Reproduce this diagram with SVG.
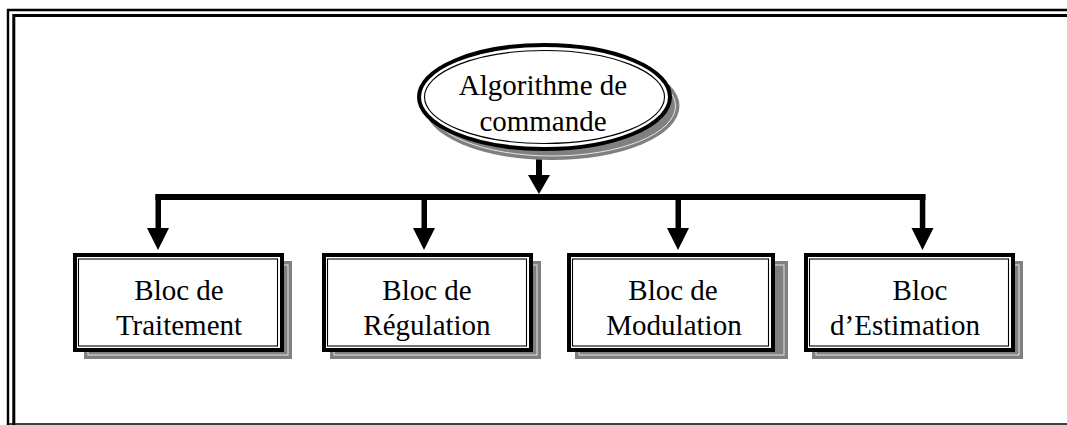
<svg xmlns="http://www.w3.org/2000/svg" width="1067" height="425" viewBox="0 0 1067 425">
<style>
.t{font-family:"Liberation Serif","Times New Roman",serif;font-size:29px;fill:#000;text-anchor:middle}
.thick{fill:#fff;stroke:#000;stroke-width:4}
.thin{fill:none;stroke:#000;stroke-width:1.1}
.sh{fill:#808080;stroke:none}
.shl{fill:none;stroke:#f0f0f0;stroke-width:0.9}
.frame{fill:none;stroke:#000}
.bar{fill:#000}
</style>
<rect width="1067" height="425" fill="#fff"/>
<g id="frame">
<path class="frame" d="M8,425 V10 H1067" stroke-width="2.4"/>
<path class="frame" d="M13.8,425 V15.5 H1067" stroke-width="3"/>
<line class="frame" x1="7" y1="424" x2="1067" y2="424" stroke-width="1.4"/>
</g>
<g id="connectors">
<rect class="bar" x="536" y="158" width="6" height="18"/>
<polygon class="bar" points="528,175 550,175 539,194"/>
<rect class="bar" x="155.5" y="194" width="770" height="6"/>
<rect class="bar" x="155.5" y="194" width="5.5" height="35"/>
<polygon class="bar" points="147,228 169,228 158,250"/>
<rect class="bar" x="421.5" y="194" width="5.5" height="35"/>
<polygon class="bar" points="413,228 435,228 424,250"/>
<rect class="bar" x="675.5" y="194" width="5.5" height="35"/>
<polygon class="bar" points="667,228 689,228 678,250"/>
<rect class="bar" x="919.8" y="194" width="5.5" height="35"/>
<polygon class="bar" points="911.5,228 933.5,228 922.5,250"/>
</g>
<g id="algorithme">
<ellipse class="sh" cx="552" cy="106" rx="127.5" ry="54"/>
<ellipse class="shl" cx="552" cy="106" rx="123.5" ry="50"/>
<ellipse class="thick" cx="544.5" cy="97" rx="125.5" ry="52"/>
<ellipse class="thin" cx="544.5" cy="97" rx="120" ry="46.5"/>
<text class="t" x="543" y="95">Algorithme de</text>
<text class="t" x="543" y="131">commande</text>
</g>
<g id="traitement">
<rect class="sh" x="84" y="261" width="208" height="98"/>
<rect class="shl" x="88" y="265" width="200" height="90"/>
<rect class="thick" x="75" y="255" width="207" height="95"/>
<rect class="thin" x="78.5" y="259" width="199" height="87"/>
<text class="t" x="179" y="300">Bloc de</text>
<text class="t" x="179" y="335">Traitement</text>
</g>
<g id="regulation">
<rect class="sh" x="330" y="261" width="211" height="98"/>
<rect class="shl" x="334" y="265" width="203" height="90"/>
<rect class="thick" x="324" y="255" width="207" height="95"/>
<rect class="thin" x="327.5" y="259" width="199" height="87"/>
<text class="t" x="427" y="300">Bloc de</text>
<text class="t" x="427" y="335">Régulation</text>
</g>
<g id="modulation">
<rect class="sh" x="575" y="261" width="213" height="98"/>
<rect class="shl" x="579" y="265" width="205" height="90"/>
<rect class="thick" x="569" y="255" width="204" height="95"/>
<rect class="thin" x="572.5" y="259" width="196" height="87"/>
<text class="t" x="673" y="300">Bloc de</text>
<text class="t" x="674" y="335">Modulation</text>
</g>
<g id="estimation">
<rect class="sh" x="812" y="261" width="211" height="98"/>
<rect class="shl" x="816" y="265" width="203" height="90"/>
<rect class="thick" x="806" y="255" width="207" height="95"/>
<rect class="thin" x="809.5" y="259" width="199" height="87"/>
<text class="t" x="920" y="300">Bloc</text>
<text class="t" x="905" y="335">d’Estimation</text>
</g>
</svg>
